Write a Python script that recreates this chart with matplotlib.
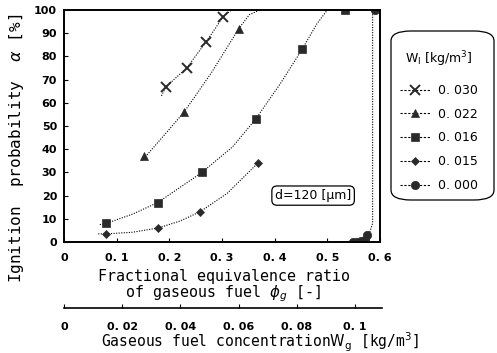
import matplotlib.pyplot as plt
from matplotlib.lines import Line2D
from matplotlib.patches import FancyBboxPatch

# measured points (phi_g, alpha %)
x030 = [0.194, 0.233, 0.269, 0.302]
y030 = [67, 75, 86, 97]
x022 = [0.152, 0.228, 0.332]
y022 = [37, 56, 92]
x016 = [0.080, 0.178, 0.262, 0.364, 0.452, 0.534]
y016 = [8, 17, 30, 53, 83, 100]
x015 = [0.080, 0.178, 0.258, 0.368]
y015 = [3.5, 6, 13, 34]
x000 = [0.548, 0.556, 0.564, 0.571, 0.576, 0.590]
y000 = [0, 0, 0.5, 1, 3, 100]

# hand-drawn trend curves
cx030 = [0.185, 0.194, 0.233, 0.269, 0.302, 0.318, 0.60]
cy030 = [63, 67, 75, 86, 97, 100, 100]
cx022 = [0.148, 0.190, 0.228, 0.280, 0.332, 0.352, 0.372, 0.60]
cy022 = [35, 46, 56, 73, 92, 98, 100, 100]
cx016 = [0.068, 0.080, 0.130, 0.178, 0.262, 0.320, 0.364, 0.410, 0.452, 0.480, 0.500, 0.60]
cy016 = [7.5, 8, 12, 17, 30, 41, 53, 68, 83, 94, 100, 100]
cx015 = [0.065, 0.080, 0.130, 0.178, 0.220, 0.258, 0.310, 0.368]
cy015 = [3.5, 3.5, 4.2, 6, 9, 13, 21, 34]
cx000 = [0.545, 0.571, 0.580, 0.586, 0.586, 0.60]
cy000 = [0, 1, 4, 8, 100, 100]

labels = ['0. 030', '0. 022', '0. 016', '0. 015', '0. 000']
markers = ['x', '^', 's', 'D', 'o']
msizes = [7, 5.5, 6, 4, 6]

xticks = [0, 0.1, 0.2, 0.3, 0.4, 0.5, 0.6]
xticklabels = ['0', '0. 1', '0. 2', '0. 3', '0. 4', '0. 5', '0. 6']
yticks = list(range(0, 101, 10))
wg_ticks = [0, 0.02, 0.04, 0.06, 0.08, 0.1]
wg_labels = ['0', '0. 02', '0. 04', '0. 06', '0. 08', '0. 1']

W, H = 497, 353
fig = plt.figure(figsize=(W / 100, H / 100), dpi=100)
ax = fig.add_axes([64 / W, 1 - 242 / H, 316 / W, 232 / H])

dark = '#2a2a2a'
ls = (0, (1, 1.3))
curves = [(cx030, cy030), (cx022, cy022), (cx016, cy016), (cx015, cy015), (cx000, cy000)]
points = [(x030, y030), (x022, y022), (x016, y016), (x015, y015), (x000, y000)]
for (cx, cy), (px, py), m, s in zip(curves, points, markers, msizes):
    ax.plot(cx, cy, color='k', lw=0.8, ls=ls)
    mew = 1.4 if m == 'x' else 0.5
    ax.plot(px, py, ls='none', marker=m, ms=s, color=dark, mec=dark, mew=mew)

ax.set_xlim(0, 0.6)
ax.set_ylim(0, 100)
ax.set_xticks(xticks)
ax.set_xticklabels(xticklabels)
ax.set_yticks(yticks)
ax.tick_params(direction='in', length=3, width=0.8, labelsize=8, pad=8)
for t in ax.get_xticklabels() + ax.get_yticklabels():
    t.set_fontweight('bold')
ax.tick_params(axis='y', pad=5)
for sp in ax.spines.values():
    sp.set_linewidth(1.4)

ax.text(0.473, 20, 'd=120 [μm]', ha='center', va='center', fontsize=9,
        bbox=dict(boxstyle='round,pad=0.25,rounding_size=0.4', fc='white', ec='k', lw=0.9))

# secondary axis: gaseous fuel concentration
ax2 = fig.add_axes([64 / W, 1 - 308 / H, 318 / W, 0.0001])
ax2.set_xlim(0, 0.1 * 318 / 291)
ax2.set_xticks(wg_ticks)
ax2.set_xticklabels(wg_labels)
ax2.set_yticks([])
for k in ['top', 'left', 'right']:
    ax2.spines[k].set_visible(False)
ax2.spines['bottom'].set_linewidth(1.2)
ax2.tick_params(axis='x', direction='in', length=3, labelsize=8, pad=10)
for t in ax2.get_xticklabels():
    t.set_fontweight('bold')

mono = 'DejaVu Sans Mono'
fig.text(224 / W, 1 - 277 / H, 'Fractional equivalence ratio', ha='center', va='center',
         family=mono, fontsize=10.8)
fig.text(223 / W, 1 - 294 / H, r'of gaseous fuel $\phi_g$ [-]', ha='center', va='center',
         family=mono, fontsize=10.8)
fig.text(260 / W, 1 - 342 / H, r'Gaseous fuel concentration$\mathrm{W_g}$ [kg/m$^3$]',
         ha='center', va='center', family=mono, fontsize=10.5)
fig.text(17 / W, 1 - 148 / H, r'Ignition  probability  $\alpha$ [%]', ha='center', va='center',
         rotation=90, family=mono, fontsize=11.5)

# legend box drawn separately so its padding matches the reference
box = FancyBboxPatch((391 / W, 1 - 200 / H), 103 / W, 169 / H, transform=fig.transFigure,
                     boxstyle='round,pad=0,rounding_size=0.04', fc='white', ec='k', lw=0.9,
                     mutation_aspect=H / W)
fig.patches.append(box)

handles = [Line2D([], [], color='k', lw=0.8, ls=(0, (2, 1.5)), marker=m, ms=s,
                  mfc=dark, mec=dark, mew=1.4 if m == 'x' else 0.5)
           for m, s in zip(markers, msizes)]
leg = fig.legend(handles, labels, loc='upper left', bbox_to_anchor=(400 / W, 1 - 49 / H),
                 title=r'W$_\mathrm{l}$ [kg/m$^3$]', fontsize=9, title_fontsize=9,
                 handlelength=2.4, handletextpad=0.6, labelspacing=0.86, borderpad=0,
                 borderaxespad=0, frameon=False)
leg._legend_box.sep = 11

fig.savefig('out.png', dpi=100)
